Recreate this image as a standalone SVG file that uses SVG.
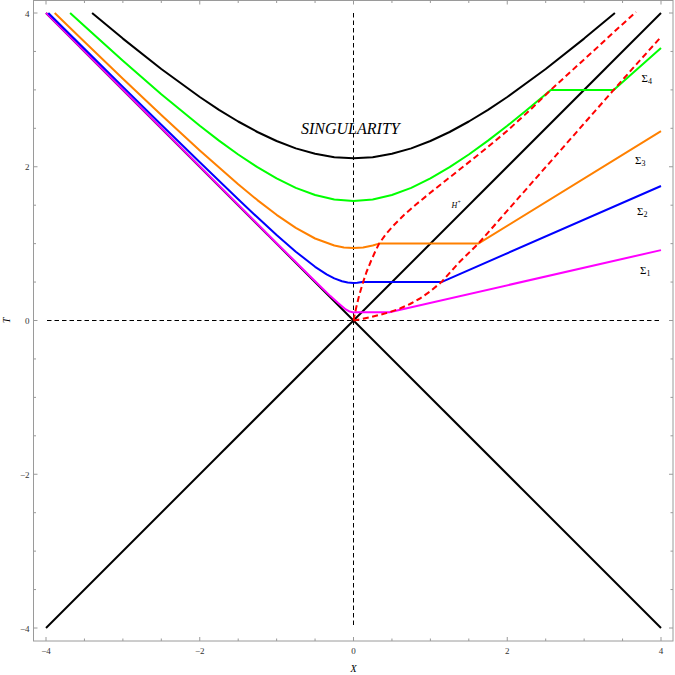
<svg xmlns="http://www.w3.org/2000/svg" width="675" height="675" viewBox="0 0 675 675">
<style>
.frame{fill:none;stroke:#9a9a9a;stroke-width:1}
.tick{fill:none;stroke:#9a9a9a;stroke-width:1}
.lbl{font-family:"Liberation Serif","Times New Roman",serif;font-size:9px;fill:#333}
.it{font-family:"Liberation Serif","Times New Roman",serif;font-style:italic;fill:#000}
.ax{fill:none;stroke:#000;stroke-width:1;stroke-dasharray:4.5,3}
.blk{fill:none;stroke:#000;stroke-width:2;stroke-linejoin:round}
.cv{fill:none;stroke-width:2;stroke-linejoin:round;stroke-linecap:butt}
.red{fill:none;stroke:#ff0000;stroke-width:2;stroke-dasharray:6,3.5;stroke-linejoin:round}
.sig{font-family:"Liberation Serif","Times New Roman",serif;font-size:11px;fill:#000}
</style>
<rect width="675" height="675" fill="#fff"/>
<g id="frame">
<rect class="frame" x="33.5" y="0.5" width="639.5" height="640.5"/>
<path class="tick" d="M46,641v-4M84.44,641v-2.5M122.88,641v-2.5M161.31,641v-2.5M199.75,641v-4M238.19,641v-2.5M276.63,641v-2.5M315.06,641v-2.5M353.5,641v-4M391.94,641v-2.5M430.38,641v-2.5M468.81,641v-2.5M507.25,641v-4M545.69,641v-2.5M584.13,641v-2.5M622.56,641v-2.5M661,641v-4"/>
<path class="tick" d="M46,0.5v4M84.44,0.5v2.5M122.88,0.5v2.5M161.31,0.5v2.5M199.75,0.5v4M238.19,0.5v2.5M276.63,0.5v2.5M315.06,0.5v2.5M353.5,0.5v4M391.94,0.5v2.5M430.38,0.5v2.5M468.81,0.5v2.5M507.25,0.5v4M545.69,0.5v2.5M584.13,0.5v2.5M622.56,0.5v2.5M661,0.5v4"/>
<path class="tick" d="M33.5,13h4M33.5,51.44h2.5M33.5,89.88h2.5M33.5,128.31h2.5M33.5,166.75h4M33.5,205.19h2.5M33.5,243.63h2.5M33.5,282.06h2.5M33.5,320.5h4M33.5,358.94h2.5M33.5,397.38h2.5M33.5,435.81h2.5M33.5,474.25h4M33.5,512.69h2.5M33.5,551.13h2.5M33.5,589.56h2.5M33.5,628h4"/>
<path class="tick" d="M673,13h-4M673,51.44h-2.5M673,89.88h-2.5M673,128.31h-2.5M673,166.75h-4M673,205.19h-2.5M673,243.63h-2.5M673,282.06h-2.5M673,320.5h-4M673,358.94h-2.5M673,397.38h-2.5M673,435.81h-2.5M673,474.25h-4M673,512.69h-2.5M673,551.13h-2.5M673,589.56h-2.5M673,628h-4"/>
<g class="lbl" text-anchor="end">
<text x="29.5" y="16.5">4</text>
<text x="29.5" y="170">2</text>
<text x="29.5" y="323.7">0</text>
<text x="29.5" y="477.5">−2</text>
<text x="29.5" y="631.5">−4</text>
</g>
<g class="lbl" text-anchor="middle">
<text x="46" y="654">−4</text>
<text x="199.75" y="654">−2</text>
<text x="353.5" y="654">0</text>
<text x="507.25" y="654">2</text>
<text x="661" y="654">4</text>
</g>
<text class="it" x="353.5" y="672" font-size="10" text-anchor="middle">X</text>
<text class="it" x="0" y="0" font-size="10" text-anchor="middle" transform="translate(10,320.5) rotate(-90)">T</text>
</g>
<g id="axes">
<line class="ax" x1="353.5" y1="13" x2="353.5" y2="628"/>
<line class="ax" x1="47" y1="320.5" x2="661" y2="320.5"/>
</g>
<g id="light-cone">
<line class="blk" x1="46" y1="628" x2="661" y2="13"/>
<line class="blk" x1="46" y1="13" x2="661" y2="628"/>
</g>
<g id="singularity">
<path class="blk" d="M92.1,12.9 L122.9,38.6 L161.3,69.0 L199.8,97.0 L219.0,109.8 L238.2,121.5 L257.4,132.0 L276.6,141.0 L295.8,148.4 L315.1,153.8 L334.3,157.2 L353.5,158.3 L372.7,157.2 L391.9,153.8 L411.2,148.4 L430.4,141.0 L449.6,132.0 L468.8,121.5 L488.0,109.8 L507.3,97.0 L545.7,69.0 L584.1,38.6 L614.9,12.9"/>
<text class="it" x="301" y="134" font-size="16">SINGULARITY</text>
</g>
<g id="sigma1">
<path class="cv" stroke="#ff00ff" d="M46,12.9 L276.6,243.2 L315.1,281.2 L330.4,296.1 L338.1,303.1 L345.8,309.4 L349.7,311.6 L353.5,312.4 L355,312.3 L389.4,312.3 L661,250.1"/>
<text class="sig" x="640" y="274">Σ<tspan font-size="8" dy="2">1</tspan></text>
</g>
<g id="sigma2">
<path class="cv" stroke="#0000ff" d="M48.3,13 L84.4,48.8 L122.9,86.85 L161.3,124.7 L199.8,162.2 L238.2,199.2 L257.4,217.35 L276.6,235.0 L295.8,251.7 L315.1,266.8 L326.6,274.3 L334.3,278.4 L342.0,281.3 L347.7,282.56 L353.5,283.0 L357.3,282.8 L362.0,282.06 L441.4,282.06 L661,186.0"/>
<text class="sig" x="637" y="215">Σ<tspan font-size="8" dy="2">2</tspan></text>
</g>
<g id="sigma3">
<path class="cv" stroke="#ff8000" d="M54.7,13 L84.4,41.8 L122.9,78.75 L161.3,115.1 L199.8,150.5 L238.2,184.3 L257.4,200.1 L276.6,214.8 L295.8,227.9 L315.1,238.5 L334.3,245.5 L343.9,247.4 L353.5,248.0 L363.1,247.4 L372.7,245.5 L379.1,243.6 L478.3,243.6 L661,131.1"/>
<text class="sig" x="635" y="164">Σ<tspan font-size="8" dy="2">3</tspan></text>
</g>
<g id="sigma4">
<path class="cv" stroke="#00ff00" d="M70.1,13 L84.4,26.1 L122.9,60.8 L161.3,94.2 L199.8,125.8 L219.0,140.6 L238.2,154.5 L257.4,167.2 L276.6,178.4 L295.8,187.9 L315.1,195.0 L334.3,199.5 L353.5,201.0 L372.7,199.5 L391.9,195.0 L411.2,187.9 L430.4,178.4 L449.6,167.2 L468.8,154.5 L488.0,140.6 L507.3,125.8 L526.5,110.3 L545.7,94.2 L550.8,89.9 L613.7,89.9 L661,48.0"/>
<text class="sig" x="641.5" y="82">Σ<tspan font-size="8" dy="2">4</tspan></text>
</g>
<g id="connectors">
<path id="inner-red" class="red" d="M353.5,320.5 L356,308.5 L359,296 L362.5,284 L366.5,272 L371,261 L375,252 L379.1,243.6 L386,234 L394,225 L404,215 L416,204.5 L430,193 L447,179.5 L466,164.5 L486,148.5 L507,131 L529,111 L550.8,89.9 L572,70.5 L594,50.5 L615,31 L636,12"/>
<path id="outer-red" class="red" d="M353.5,320.5 L362,319 L372,316.8 L381,314.5 L389.4,312.3 L400,308.5 L410,304 L420,298.5 L430,291.5 L441.4,282.1 L459,262.5 L478.3,243.6 L500,219 L530,184.9 L560,150.9 L590,116.8 L613.7,89.9 L637,63.6 L661,37"/>
</g>
<g id="horizon-label">
<text class="it" x="451.5" y="208" font-size="8">H<tspan font-size="5.5" dy="-4">+</tspan></text>
</g>
</svg>
